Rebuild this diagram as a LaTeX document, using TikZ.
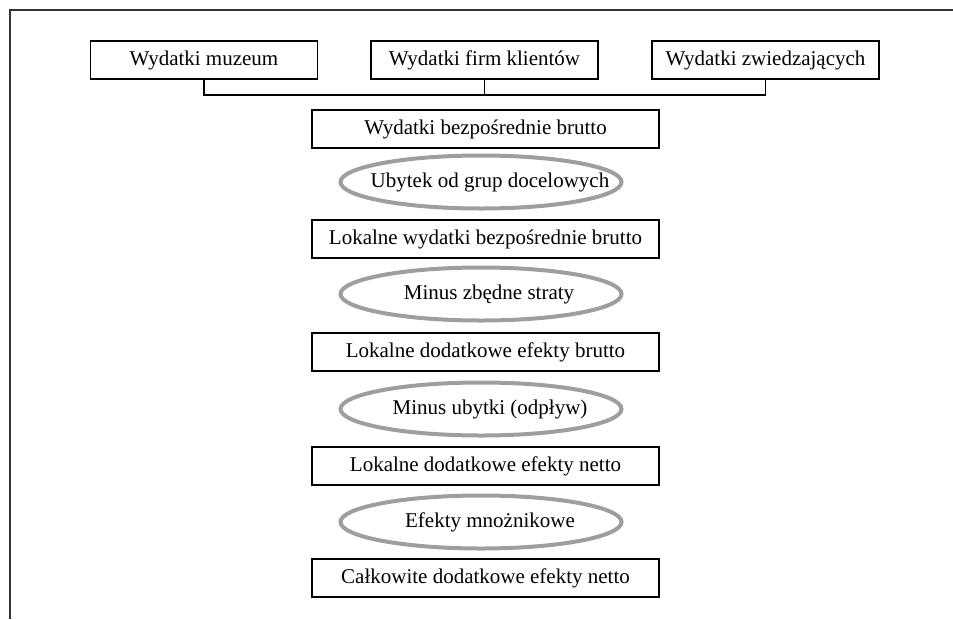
\documentclass[tikz,border=0pt]{standalone}
\usepackage{fontspec}
\setmainfont{Liberation Serif}
\usetikzlibrary{shapes.geometric}
\begin{document}
\begin{tikzpicture}[x=1pt,y=-1pt,
  box/.style={draw=black,line width=1.2pt,rectangle,inner sep=0pt,minimum height=38pt,font=\fontsize{21}{25}\selectfont},
  topbox/.style={box,minimum width=227pt},
  midbox/.style={box,minimum width=347pt},
  ell/.style={draw=black!38,line width=4pt,ellipse,inner sep=0pt,minimum width=281pt,minimum height=53pt},
  etxt/.style={inner sep=0pt,font=\fontsize{21}{25}\selectfont},
  frameline/.style={draw=black!80,line width=1.5pt},
  bracket/.style={draw=black,line width=1.6pt}]
\useasboundingbox (0,0) rectangle (953,619);
\coordinate (ftl) at (10,10);
\coordinate (ftr) at (953,10);
\coordinate (fbl) at (10,619);
\draw[frameline] (ftr) -- (ftl) -- (fbl);

\node[topbox] (muz) at (204,60) {Wydatki muzeum};
\node[topbox] (firm) at (484.5,60) {Wydatki firm klientów};
\node[topbox] (zw) at (765.5,60) {Wydatki zwiedzających};

\coordinate (bl) at (204,95);
\coordinate (br) at (765.5,95);
\coordinate (bm) at (484.5,95);
\draw[bracket] (muz.south) -- (bl) -- (br) -- (zw.south);
\draw[bracket] (firm.south) -- (bm);

\node[midbox] (b1) at (485.5,129) {Wydatki bezpośrednie brutto};
\node[ell] (e1) at (481,182) {};
\node[etxt] (e1t) at (490,182) {Ubytek od grup docelowych};
\node[midbox] (b2) at (485.5,239) {Lokalne wydatki bezpośrednie brutto};
\node[ell] (e2) at (481,294) {};
\node[etxt] (e2t) at (489,294) {Minus zbędne straty};
\node[midbox] (b3) at (485.5,352) {Lokalne dodatkowe efekty brutto};
\node[ell] (e3) at (481,409) {};
\node[etxt] (e3t) at (490,409) {Minus ubytki (odpływ)};
\node[midbox] (b4) at (485.5,466) {Lokalne dodatkowe efekty netto};
\node[ell] (e4) at (481,522) {};
\node[etxt] (e4t) at (490,522) {Efekty mnożnikowe};
\node[midbox] (b5) at (485.5,578) {Całkowite dodatkowe efekty netto};
\end{tikzpicture}
\end{document}
